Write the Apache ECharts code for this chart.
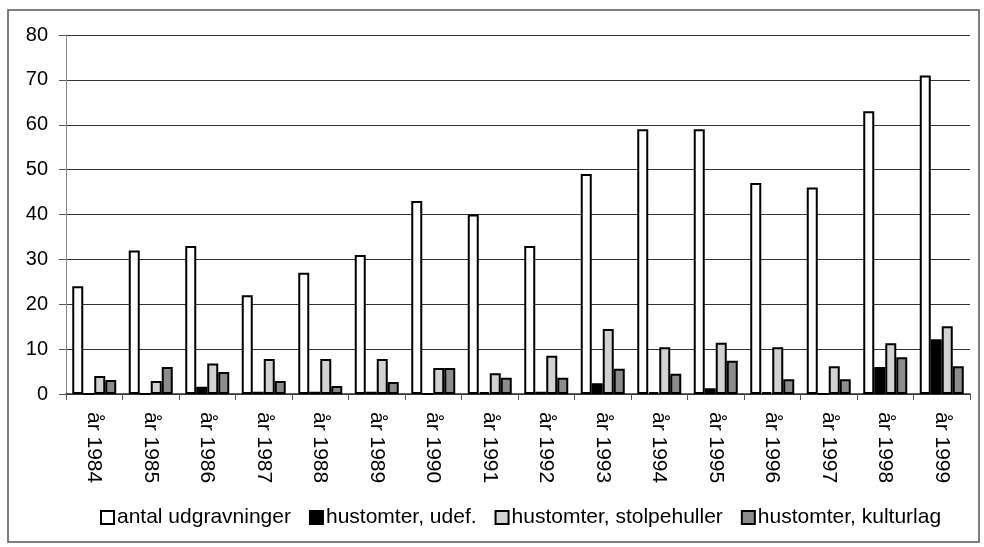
<!DOCTYPE html>
<html>
<head>
<meta charset="utf-8">
<script src="https://cdn.jsdelivr.net/npm/echarts@6/dist/echarts.min.js"></script>
<style>
html,body{margin:0;padding:0;background:#fff;}
#c{width:984px;height:547px;}
</style>
</head>
<body>
<div id="c"></div>
<script>
const categories = ['år 1984','år 1985','år 1986','år 1987','år 1988','år 1989','år 1990','år 1991','år 1992','år 1993','år 1994','år 1995','år 1996','år 1997','år 1998','år 1999'];
const antal = [24,32,33,22,27,31,43,40,33,49,59,59,47,46,63,71];
const udef = [0,0,1.6,0.5,0.5,0.5,0,0.4,0.5,2.4,0.4,1.3,0.4,0,6,12.2];
const stolpe = [4,2.9,6.8,7.8,7.8,7.8,5.8,4.6,8.5,14.5,10.4,11.4,10.4,6.2,11.3,15.1];
const kultur = [3.1,6,4.9,2.9,1.8,2.7,5.8,3.6,3.6,5.6,4.5,7.4,3.3,3.3,8.2,6.2];
const yTicks = [0,10,20,30,40,50,60,70,80];

const chart = echarts.init(document.getElementById('c'));
const font = 'Liberation Sans, Arial, sans-serif';
function s(name, data, color){
  return {name, type:'bar', data, barWidth:11, barGap:'0%',
    itemStyle:{color, borderColor:'#000', borderWidth:2}, animation:false};
}
chart.setOption({
  animation:false,
  graphic:[{type:'rect', shape:{x:8,y:10,width:971,height:532}, style:{fill:'none',stroke:'#555',lineWidth:1.5}, silent:true}],
  grid:{left:66,right:14,top:35,bottom:153},
  legend:{bottom:14,left:95,itemWidth:13,itemHeight:13,itemGap:18,icon:'rect',
    textStyle:{fontFamily:font,fontSize:21,color:'#000',padding:[0,0,0,-2]},
    data:['antal udgravninger','hustomter, udef.','hustomter, stolpehuller','hustomter, kulturlag']},
  xAxis:{type:'category',data:categories,
    axisLine:{lineStyle:{color:'#333',width:1.5}},
    axisTick:{show:true,length:6,lineStyle:{color:'#555'}},
    axisLabel:{rotate:-90,margin:18,fontFamily:font,fontSize:21,color:'#000',interval:0}},
  yAxis:{type:'value',min:0,max:80,interval:10,
    axisLine:{show:true,lineStyle:{color:'#888'}},
    axisTick:{show:true,length:7,lineStyle:{color:'#555'}},
    axisLabel:{margin:18,fontFamily:font,fontSize:20,color:'#000',
      formatter:v=>yTicks.includes(v)?String(v):''},
    splitLine:{lineStyle:{color:'#333',width:1}}},
  series:[
    s('antal udgravninger', antal, '#ffffff'),
    s('hustomter, udef.', udef, '#000000'),
    s('hustomter, stolpehuller', stolpe, '#d2d2d2'),
    s('hustomter, kulturlag', kultur, '#8c8c8c')
  ]
});
</script>
</body>
</html>
